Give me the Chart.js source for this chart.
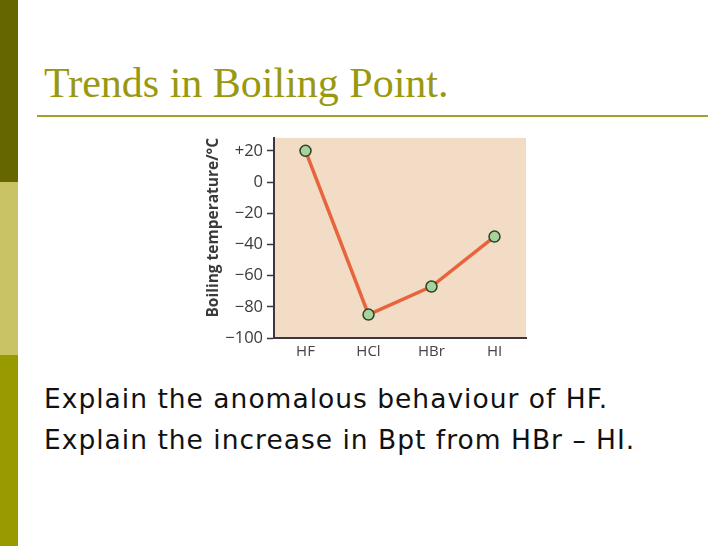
<!DOCTYPE html>
<html>
<head>
<meta charset="utf-8">
<script src="https://cdn.jsdelivr.net/npm/chart.js@4.4.1/dist/chart.umd.min.js"></script>
<style>
  html, body { margin: 0; padding: 0; background: #fff; }
  body { width: 728px; height: 546px; position: relative; overflow: hidden; }
  .band { position: absolute; left: 0; width: 18px; }
  #title {
    position: absolute; left: 44px; top: 62px;
    font-family: "Liberation Serif", serif; font-size: 42px; line-height: 42px;
    color: #999911; white-space: nowrap;
  }
  #rule { position: absolute; left: 37px; top: 115px; width: 671px; height: 2px; background: #a0a02a; }
  #chartBox { position: absolute; left: 190px; top: 124px; width: 346px; height: 244px; }
  .body {
    position: absolute; left: 44px;
    font-family: "DejaVu Sans", Verdana, sans-serif; font-size: 26.5px; line-height: 42px;
    letter-spacing: 1px; color: #111; white-space: nowrap;
  }
</style>
</head>
<body>
<div class="band" style="top:0;height:182px;background:#666600"></div>
<div class="band" style="top:182px;height:173px;background:#c9c366"></div>
<div class="band" style="top:355px;height:191px;background:#999900"></div>

<div id="title">Trends in Boiling Point.</div>
<div id="rule"></div>

<div id="chartBox"><canvas id="chart"></canvas></div>

<div class="body" style="top:378px">Explain the anomalous behaviour of HF.</div>
<div class="body" style="top:419px">Explain the increase in Bpt from HBr – HI.</div>

<script>
// Boiling temperatures of the hydrogen halides (°C)
const categories = ['HF', 'HCl', 'HBr', 'HI'];
const boilingPoints = [20, -85, -67, -35];
const yTicks = [-100, -80, -60, -40, -20, 0, 20];

const axisColor = '#3d3540';
const sansFamily = '"Open Sans", "Noto Sans", sans-serif';

// Paint the peach background only inside the plot area
const plotBackground = {
    id: 'plotBackground',
    beforeDraw(chart) {
        let a = chart.chartArea;
        let ctx = chart.ctx;
        ctx.save();
        ctx.fillStyle = '#f3dcc6';
        ctx.fillRect(a.left, a.top, a.right - a.left, a.bottom - a.top);
        ctx.restore();
    }
};

function signed(v) {
    if (v > 0) return '+' + v;
    if (v < 0) return '\u2212' + Math.abs(v);
    return '0';
}

new Chart(document.getElementById('chart'), {
    type: 'line',
    data: {
        labels: categories,
        datasets: [{
            label: 'Boiling temperature',
            data: boilingPoints,
            borderColor: '#e8643c',
            borderWidth: 3.5,
            pointRadius: 5.5,
            pointBackgroundColor: '#a6d39a',
            pointBorderColor: '#2f3f2f',
            pointBorderWidth: 1.5,
            tension: 0,
            clip: false
        }]
    },
    options: {
        responsive: true,
        maintainAspectRatio: false,
        animation: false,
        layout: { padding: { top: 7, right: 10, left: 0, bottom: 0 } },
        plugins: {
            legend: { display: false },
            tooltip: { enabled: false }
        },
        scales: {
            x: {
                offset: true,
                border: { display: true, color: axisColor, width: 2 },
                grid: { display: false, drawTicks: false },
                ticks: { color: '#444', font: { family: sansFamily, size: 15 }, padding: 5 },
                afterFit: s => { s.height = 30; }
            },
            y: {
                min: -100,
                max: 28.3,
                border: { display: true, color: axisColor, width: 2 },
                grid: { drawOnChartArea: false, color: axisColor, tickLength: 7, tickWidth: 1.5 },
                afterBuildTicks: s => { s.ticks = yTicks.map(v => ({ value: v })); },
                ticks: { color: '#3a3a3a', font: { family: sansFamily, size: 16.5 }, padding: 4, callback: v => signed(v) },
                title: {
                    display: true,
                    text: 'Boiling temperature/°C',
                    align: 'end',
                    color: '#3a3a3a',
                    font: { family: sansFamily, size: 15.5, weight: 'bold' },
                    padding: { top: 14, bottom: 0 }
                },
                afterFit: s => { s.width = 84; }
            }
        }
    },
    plugins: [plotBackground]
});
</script>
</body>
</html>
